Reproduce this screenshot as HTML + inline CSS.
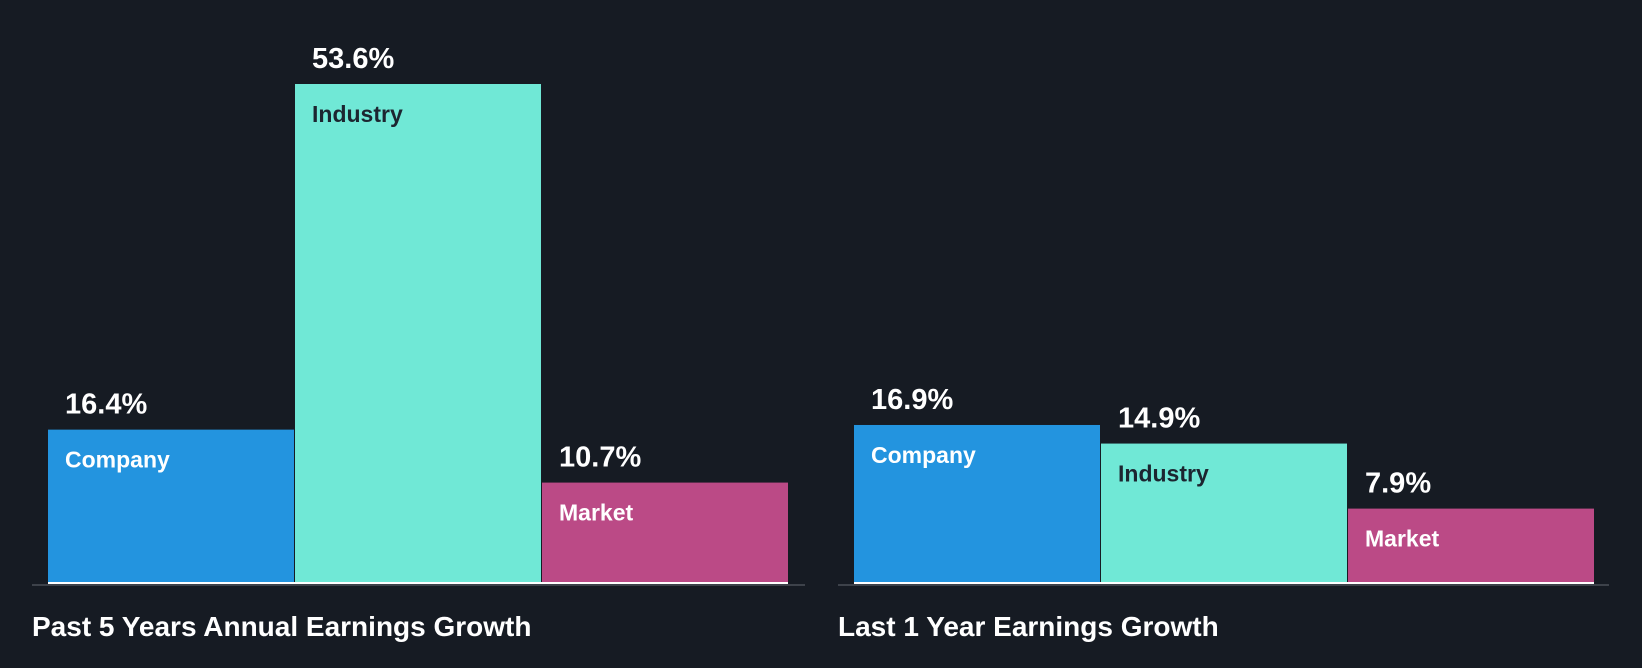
<!DOCTYPE html>
<html><head><meta charset="utf-8"><style>
html,body{margin:0;padding:0;background:#161b23;}
svg{display:block;font-family:"Liberation Sans",sans-serif;}
</style></head><body>
<svg id="chart" width="1642" height="668"></svg>
<script>
const categories = ["Company","Industry","Market"];
const past5Values = [16.4,53.6,10.7];
const last1Values = [16.9,14.9,7.9];
const groupTitles = ["Past 5 Years Annual Earnings Growth","Last 1 Year Earnings Growth"];
const colors = ["#2394df","#70e8d6","#bb4a86"];
const labelColors = ["#ffffff","#1c2530","#ffffff"];
const NS="http://www.w3.org/2000/svg";
const svg=document.getElementById('chart');
const baseY=582, pxPerUnit=498/53.6;
function y(v){return baseY-v*pxPerUnit;}
function mk(tag,attrs,parent){const e=document.createElementNS(NS,tag);for(const k in attrs)e.setAttribute(k,attrs[k]);(parent||svg).appendChild(e);return e;}
const groups=[{vals:past5Values,x0:48,axisX0:32,axisX1:805,titleX:32},{vals:last1Values,x0:854,axisX0:838,axisX1:1609,titleX:838}];
const bw=247;
groups.forEach((g,gi)=>{
  const grp=mk('g',{});
  
  
  g.vals.forEach((v,i)=>{
    const x=g.x0+i*bw, top=y(v);
    const r=mk('rect',{x:x,y:top,width:bw-1,height:baseY-top,fill:colors[i]},grp);
    
    
    const vt=mk('text',{x:x+17,y:top-16,fill:'#fff','font-size':29,'font-weight':'bold'},grp);
    vt.textContent=v.toFixed(1)+'%';
    
    
    const ct=mk('text',{x:x+17,y:top+38,fill:labelColors[i],'font-size':23,'font-weight':'bold'},grp);
    ct.textContent=categories[i];
    
    
  });
  const wl=mk('rect',{x:g.x0,y:baseY,width:bw*3-1,height:2,fill:'#ffffff'},grp);
  
  
  const al=mk('rect',{x:g.axisX0,y:584,width:g.axisX1-g.axisX0,height:2,fill:'#3d424a'},grp);
  
  
  const tt=mk('text',{x:g.titleX,y:636,fill:'#fff','font-size':28,'font-weight':'bold'},grp);
  tt.textContent=groupTitles[gi];
  
  
});
</script>
</body></html>
